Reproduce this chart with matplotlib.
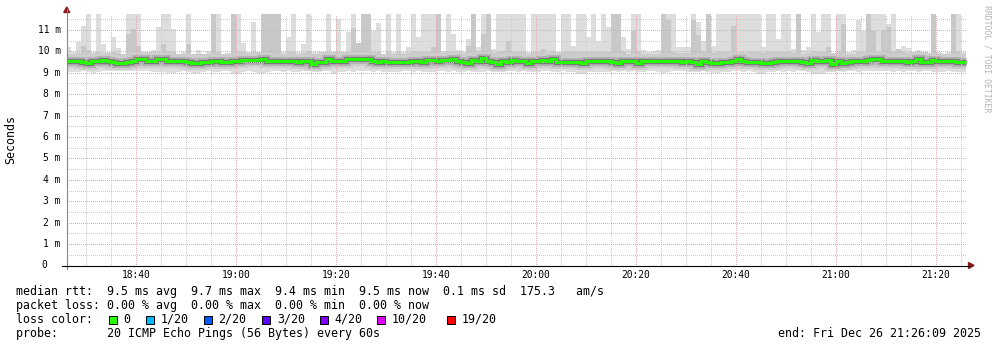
import numpy as np
import matplotlib
matplotlib.use('Agg')
import matplotlib.pyplot as plt
from matplotlib.patches import Rectangle, Polygon
from matplotlib.lines import Line2D
from matplotlib.ticker import MultipleLocator

plt.rcParams['font.family'] = 'DejaVu Sans Mono'

# --- data: one value per 1-minute step, starting 18:26 ---
start_minute = 26  # minutes after 18:00

rtt_median = [
    9.54, 9.54, 9.54, 9.49, 9.46, 9.54, 9.54, 9.60, 9.54, 9.49, 9.46, 9.45,
    9.52, 9.57, 9.63, 9.63, 9.57, 9.57, 9.62, 9.62, 9.57, 9.57, 9.54, 9.54,
    9.52, 9.46, 9.46, 9.49, 9.49, 9.54, 9.54, 9.49, 9.49, 9.54, 9.57, 9.60,
    9.60, 9.60, 9.60, 9.65, 9.57, 9.57, 9.57, 9.57, 9.57, 9.54, 9.49, 9.57,
    9.57, 9.41, 9.52, 9.52, 9.62, 9.57, 9.57, 9.57, 9.62, 9.62, 9.62, 9.65,
    9.65, 9.57, 9.49, 9.54, 9.49, 9.49, 9.49, 9.49, 9.49, 9.54, 9.57, 9.49,
    9.60, 9.60, 9.57, 9.60, 9.60, 9.65, 9.57, 9.49, 9.46, 9.60, 9.57, 9.68,
    9.57, 9.49, 9.41, 9.57, 9.49, 9.60, 9.54, 9.57, 9.46, 9.57, 9.54, 9.60,
    9.54, 9.62, 9.52, 9.49, 9.49, 9.49, 9.49, 9.46, 9.57, 9.54, 9.54, 9.54,
    9.54, 9.49, 9.46, 9.54, 9.57, 9.57, 9.46, 9.57, 9.54, 9.54, 9.54, 9.57,
    9.57, 9.54, 9.54, 9.49, 9.54, 9.49, 9.41, 9.57, 9.52, 9.45, 9.45, 9.49,
    9.49, 9.57, 9.63, 9.57, 9.49, 9.52, 9.49, 9.45, 9.46, 9.49, 9.54, 9.57,
    9.54, 9.54, 9.54, 9.49, 9.46, 9.60, 9.57, 9.57, 9.60, 9.41, 9.54, 9.46,
    9.49, 9.57, 9.57, 9.57, 9.60, 9.62, 9.62, 9.57, 9.57, 9.57, 9.57, 9.54,
    9.49, 9.57, 9.65, 9.49, 9.49, 9.60, 9.57, 9.57, 9.57, 9.57, 9.49, 9.49,
]

# highest ping of each step (values above the top are clipped)
rtt_max = [
    10.19, 9.96, 10.43, 11.20, 12.0, 9.96, 12.0, 10.35, 9.96, 10.66, 10.16, 9.88,
    12.0, 12.0, 12.0, 9.88, 9.96, 10.04, 11.13, 12.0, 12.0, 11.02, 9.88, 9.96,
    12.0, 9.88, 10.08, 9.88, 10.01, 12.0, 12.0, 9.88, 9.91, 12.0, 12.0, 10.38,
    9.96, 11.39, 9.96, 12.0, 12.0, 12.0, 12.0, 9.96, 10.69, 12.0, 9.96, 10.35,
    12.0, 9.96, 9.96, 9.96, 12.0, 9.96, 11.52, 9.96, 10.89, 12.0, 10.39, 12.0,
    12.0, 10.97, 11.31, 9.88, 12.0, 9.96, 12.0, 9.96, 10.22, 12.0, 10.66, 12.0,
    12.0, 12.0, 12.0, 10.01, 12.0, 10.82, 10.04, 9.96, 10.58, 12.0, 10.19, 12.0,
    12.0, 10.11, 12.0, 12.0, 12.0, 12.0, 12.0, 12.0, 9.96, 12.0, 12.0, 12.0,
    12.0, 12.0, 9.96, 12.0, 12.0, 10.27, 12.0, 12.0, 10.66, 12.0, 10.50, 12.0,
    11.13, 12.0, 12.0, 10.66, 10.11, 12.0, 12.0, 10.07, 9.96, 10.01, 10.04, 12.0,
    12.0, 12.0, 10.19, 10.19, 10.19, 12.0, 11.36, 10.50, 12.0, 10.27, 12.0, 12.0,
    12.0, 12.0, 12.0, 12.0, 12.0, 12.0, 12.0, 10.22, 12.0, 12.0, 10.58, 12.0,
    12.0, 10.11, 12.0, 10.04, 10.22, 12.0, 10.89, 12.0, 12.0, 9.88, 12.0, 12.0,
    9.96, 10.04, 11.44, 10.97, 12.0, 12.0, 12.0, 12.0, 11.28, 12.0, 10.11, 10.27,
    10.16, 9.88, 10.04, 9.96, 9.80, 12.0, 9.96, 9.88, 9.96, 12.0, 12.0, 9.96,
]

# second highest ping of each step
rtt_hi2 = [
    9.86, 9.86, 9.90, 10.27, 10.04, 9.86, 9.95, 9.90, 9.86, 9.95, 9.90, 9.86,
    10.82, 11.05, 10.27, 9.86, 9.86, 9.86, 9.95, 10.35, 10.00, 9.95, 9.86, 9.86,
    10.35, 9.86, 9.86, 9.86, 9.86, 12.0, 9.95, 9.86, 9.86, 12.0, 9.95, 9.95,
    9.86, 9.95, 9.86, 12.0, 12.0, 12.0, 12.0, 9.86, 9.95, 9.95, 9.86, 9.90,
    9.95, 9.86, 9.86, 9.86, 9.95, 9.86, 9.95, 9.86, 9.95, 11.10, 10.39, 12.0,
    12.0, 9.95, 9.95, 9.86, 9.95, 9.86, 9.95, 9.86, 9.90, 9.95, 9.95, 9.95,
    9.95, 10.20, 12.0, 9.86, 9.95, 9.95, 9.86, 9.86, 10.27, 12.0, 9.90, 10.82,
    12.0, 9.90, 9.95, 10.00, 10.50, 9.95, 9.95, 9.95, 9.86, 9.95, 9.95, 10.10,
    9.95, 10.00, 9.86, 9.95, 9.95, 9.95, 9.95, 9.95, 9.95, 9.95, 9.95, 9.95,
    9.95, 12.0, 12.0, 9.95, 9.86, 10.97, 9.95, 9.86, 9.86, 9.86, 9.86, 12.0,
    11.44, 9.95, 9.90, 9.90, 9.90, 11.44, 10.74, 9.95, 12.0, 9.90, 9.95, 9.95,
    9.95, 11.20, 9.95, 9.95, 9.95, 9.95, 9.95, 9.90, 9.95, 9.95, 9.95, 9.95,
    9.95, 9.90, 12.0, 9.86, 9.90, 9.95, 9.95, 9.95, 10.20, 9.86, 9.95, 11.28,
    9.86, 9.86, 9.95, 9.95, 12.0, 10.97, 9.95, 11.00, 11.13, 9.95, 10.11, 9.95,
    9.90, 9.86, 9.86, 9.86, 9.80, 12.0, 9.86, 9.86, 9.86, 12.0, 9.95, 9.86,
]

# lowest ping of each step
rtt_min = [
    9.03, 9.03, 9.05, 9.08, 9.03, 9.01, 9.05, 9.08, 9.06, 9.08, 9.10, 9.10,
    9.08, 9.08, 9.06, 9.06, 9.08, 9.05, 9.03, 9.05, 8.98, 8.98, 9.05, 9.06,
    9.03, 8.95, 9.01, 9.05, 9.06, 9.03, 9.03, 9.06, 9.06, 8.96, 8.96, 9.05,
    9.06, 9.05, 8.98, 8.98, 9.05, 9.06, 9.06, 9.05, 9.06, 9.05, 9.05, 9.08,
    9.06, 9.03, 9.03, 9.06, 9.06, 8.95, 9.03, 9.05, 9.06, 9.05, 9.06, 9.08,
    9.06, 9.05, 9.06, 9.05, 9.05, 9.03, 9.03, 9.06, 9.06, 9.05, 9.06, 9.05,
    9.05, 9.05, 9.06, 9.06, 9.05, 9.08, 9.05, 9.05, 9.06, 9.05, 9.03, 9.05,
    9.06, 9.03, 9.03, 9.05, 9.06, 9.06, 9.05, 9.06, 9.05, 9.03, 9.05, 9.06,
    9.06, 9.05, 9.05, 9.06, 9.05, 9.03, 8.93, 8.93, 9.03, 9.05, 9.05, 9.03,
    9.05, 9.06, 9.05, 9.06, 9.05, 9.06, 9.03, 9.05, 9.06, 9.06, 9.05, 8.98,
    9.05, 9.06, 9.06, 9.06, 9.03, 9.05, 9.05, 9.06, 9.05, 8.98, 8.98, 9.03,
    9.05, 9.06, 9.06, 9.05, 9.06, 9.05, 8.96, 8.96, 9.03, 9.05, 9.06, 9.05,
    9.06, 9.05, 9.06, 9.06, 9.05, 8.96, 8.96, 8.96, 9.05, 9.03, 9.06, 9.05,
    9.06, 9.06, 9.05, 9.06, 9.06, 9.06, 9.08, 9.10, 9.06, 9.05, 9.06, 9.05,
    9.06, 9.06, 9.05, 9.06, 9.06, 9.03, 9.03, 9.05, 9.06, 9.05, 9.03, 9.05,
]

loss_labels = ['0', '1/20', '2/20', '3/20', '4/20', '10/20', '19/20']
loss_colors = ['#26ff00', '#00b8ff', '#0059ff', '#5e00ff', '#7e00ff', '#dd00ff', '#ff0000']

legend_lines = [
    'median rtt:  9.5 ms avg  9.7 ms max  9.4 ms min  9.5 ms now  0.1 ms sd  175.3   am/s',
    'packet loss: 0.00 % avg  0.00 % max  0.00 % min  0.00 % now',
    'loss color:',
    'probe:       20 ICMP Echo Pings (56 Bytes) every 60s',
]
end_text = 'end: Fri Dec 26 21:26:09 2025'

# --- layout (pixels) ---
W, H, DPI = 997, 347, 100
X0, X1 = 66.75, 966.75
Y_TOP, Y_BOT = 14.0, 265.5
PX_PER_MS = 21.42

fig = plt.figure(figsize=(W / DPI, H / DPI), dpi=DPI)
fig.patch.set_facecolor('white')
ax = fig.add_axes([X0 / W, (H - Y_BOT) / H, (X1 - X0) / W, (Y_BOT - Y_TOP) / H])


def fx(px):
    return px / W


def fy(py):
    return (H - py) / H


def ext(a):
    a = np.asarray(a, dtype=float)
    return np.append(a, a[-1])


t = start_minute + np.arange(len(rtt_median) + 1)
med = ext(rtt_median)

# smoke
ax.fill_between(t, ext(rtt_min), ext(rtt_max), step='post', color='#dddddd', lw=0, zorder=1)
ax.fill_between(t, med, ext(rtt_hi2), step='post', color='#c8c8c8', lw=0, zorder=1.1)
for c, lw, z in [('#cdcdcd', 10.0, 1.2), ('#b2b2b2', 6.4, 1.3), ('#7a7a7a', 3.8, 1.4)]:
    ax.step(t, med, where='post', color=c, lw=lw, solid_joinstyle='miter',
            solid_capstyle='butt', zorder=z)
# median line
ax.step(t, med, where='post', color='#26ff00', lw=2.2, solid_joinstyle='miter',
        solid_capstyle='butt', zorder=3)

ax.set_xlim(26.15, 206.15)
ax.set_ylim(0, (Y_BOT - Y_TOP) / PX_PER_MS)

# dotted grid, drawn over the smoke like rrdtool does
ax.xaxis.set_major_locator(MultipleLocator(20))
ax.xaxis.set_minor_locator(MultipleLocator(5))
ax.yaxis.set_major_locator(MultipleLocator(1))
ax.yaxis.set_minor_locator(MultipleLocator(0.5))
ax.set_axisbelow(False)
ax.grid(which='minor', color='#cdcdcd', lw=0.72, linestyle=(0, (1, 2)), antialiased=False)
ax.grid(which='major', color='#e6a8a8', lw=0.72, linestyle=(0, (1, 2)), antialiased=False)

xt = np.arange(40, 201, 20)
ax.set_xticks(xt)
ax.set_xticklabels([f'{18 + m // 60}:{m % 60:02d}' for m in xt])
ax.tick_params(axis='x', which='both', length=0, pad=3.6, labelsize=6.95)
ax.tick_params(axis='y', which='both', length=0, labelleft=False)

for s in ax.spines.values():
    s.set_visible(False)

# y tick labels
for v in range(12):
    y = fy(Y_BOT - v * PX_PER_MS)
    if v == 0:
        fig.text(fx(47.5), y, '0', ha='right', va='center', fontsize=6.95)
    else:
        fig.text(fx(60.5), y, f'{v} m', ha='right', va='center', fontsize=6.95)

# axes lines + arrows
fig.add_artist(Line2D([fx(X0), fx(X0)], [fy(Y_BOT + 3), fy(9)], color='#888888', lw=0.8))
fig.add_artist(Line2D([fx(62), fx(970)], [fy(Y_BOT), fy(Y_BOT)], color='black', lw=0.8))
fig.add_artist(Polygon([[fx(X0 - 3), fy(12.5)], [fx(X0 + 3), fy(12.5)], [fx(X0), fy(7)]],
                       closed=True, color='#8b1a1a', transform=fig.transFigure))
fig.add_artist(Polygon([[fx(968.5), fy(Y_BOT - 3)], [fx(968.5), fy(Y_BOT + 3)], [fx(974), fy(Y_BOT)]],
                       closed=True, color='#8b1a1a', transform=fig.transFigure))

# labels
fig.text(fx(11), fy(139), 'Seconds', rotation=90, ha='center', va='center', fontsize=8.4)
fig.text(fx(987), fy(59), 'RRDTOOL / TOBI OETIKER', rotation=270, ha='center', va='center',
         fontsize=5.9, color='#b4b4b4')

# legend
line_y = [291, 305.5, 319.5, 333.5]
for txt, y in zip(legend_lines, line_y):
    fig.text(fx(16), fy(y), txt, ha='left', va='center', fontsize=8.4)
fig.text(fx(980.5), fy(line_y[3]), end_text, ha='right', va='center', fontsize=8.4)

box_x = [108.5, 146, 203.5, 262, 319.5, 377, 447]
for bx, lab, col in zip(box_x, loss_labels, loss_colors):
    fig.add_artist(Rectangle((fx(bx), fy(line_y[2] + 4)), 8 / W, 8 / H, facecolor=col,
                             edgecolor='black', lw=0.7, transform=fig.transFigure))
    fig.text(fx(bx + 15), fy(line_y[2]), lab, ha='left', va='center', fontsize=8.4)

fig.savefig('out.png', dpi=DPI, facecolor='white')
